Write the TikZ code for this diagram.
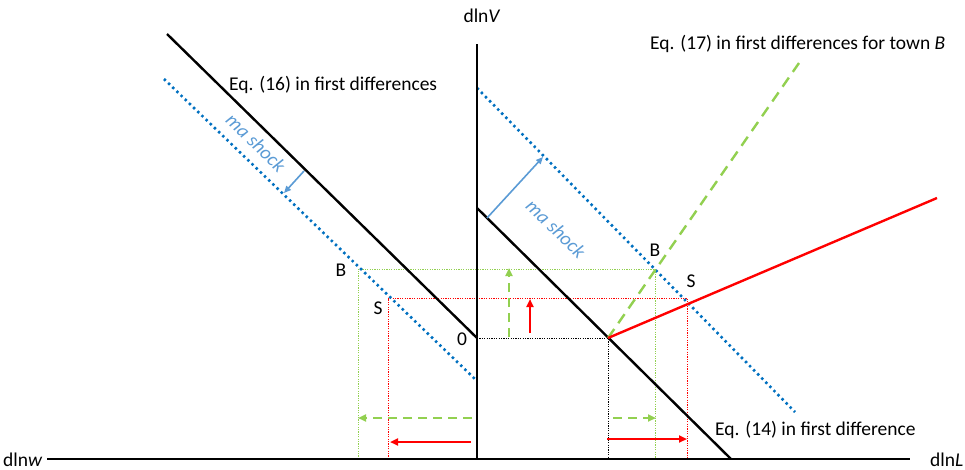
\documentclass[tikz,border=0pt]{standalone}
\usepackage{fontspec}
\setmainfont{Carlito}
\usetikzlibrary{arrows.meta}
\definecolor{bdot}{HTML}{0070C0}
\definecolor{lblue}{HTML}{5B9BD5}
\definecolor{lgreen}{HTML}{92D050}
\definecolor{rred}{HTML}{FF0000}
\begin{document}
\begin{tikzpicture}[x=1pt,y=-1pt,
  axis/.style={line width=2.8pt,black},
  eqline/.style={line width=2.4pt,black},
  bluedot/.style={line width=2.6pt,bdot,dash pattern=on 2.4pt off 3.4pt},
  guide/.style={line width=1pt,dash pattern=on 1.2pt off 1.2pt},
  shockarrow/.style={line width=1.6pt,lblue,-{Triangle[length=7pt,width=6pt]}},
  redarrow/.style={line width=2pt,rred,-{Triangle[length=8pt,width=7pt]}},
  greenarrow/.style={line width=2.2pt,lgreen,dash pattern=on 9pt off 6pt,-{Triangle[length=8pt,width=7pt]}},
  lab/.style={font=\fontsize{19.5}{22}\selectfont,inner sep=0pt},
  shocklab/.style={font=\fontsize{19.5}{22}\selectfont\itshape,text=lblue,inner sep=0pt}
]
\useasboundingbox (0,0) rectangle (965,469);
% coordinates
\coordinate (hL) at (47,459);
\coordinate (hR) at (910,459);
\coordinate (vT) at (477,44);
\coordinate (vB) at (477,460);
\coordinate (O) at (477,338);
\coordinate (e16a) at (167,34);
\coordinate (e14a) at (477,208);
\coordinate (K) at (608,338);
\coordinate (e14b) at (731,459);
\coordinate (bl1) at (164,79);
\coordinate (bl2) at (477,381);
\coordinate (br1) at (477,88);
\coordinate (br2) at (795,412);
\coordinate (g17) at (799,63);
\coordinate (r15) at (937,198);
\coordinate (Bp) at (655,269);
\coordinate (Sp) at (687,298);
\coordinate (BL) at (358,269);
\coordinate (SL) at (388,298);
\coordinate (BLb) at (358,459);
\coordinate (SLb) at (388,459);
\coordinate (Bpb) at (655,459);
\coordinate (Spb) at (687,459);
\coordinate (Kb) at (608,459);
% guides
\draw[guide,lgreen] (BLb) -- (BL) -- (Bp) -- (Bpb);
\draw[guide,rred] (SLb) -- (SL) -- (Sp) -- (Spb);
\draw[guide,black] (O) -- (K) -- (Kb);
% blue dotted
\draw[bluedot] (bl1) -- (bl2);
\draw[bluedot] (br1) -- (br2);
% eq lines
\draw[eqline] (e16a) -- (O);
\draw[eqline] (e14a) -- (e14b);
\draw[line width=2.4pt,lgreen,dash pattern=on 11pt off 7pt] (K) -- (g17);
\draw[line width=2.4pt,rred] (K) -- (r15);
% axes
\draw[axis] (hL) -- (hR);
\draw[axis] (vT) -- (vB);
% shock arrows
\coordinate (sa1) at (304,171);
\coordinate (sa2) at (284,193);
\coordinate (sb1) at (487,218);
\coordinate (sb2) at (543,157);
\draw[shockarrow] (sa1) -- (sa2);
\draw[shockarrow] (sb1) -- (sb2);
% small arrows
\coordinate (gu1) at (509,337);
\coordinate (gu2) at (509,268);
\coordinate (ru1) at (530,333);
\coordinate (ru2) at (530,299);
\coordinate (gl1) at (472,418);
\coordinate (gl2) at (358,418);
\coordinate (rl1) at (471,442);
\coordinate (rl2) at (390,442);
\coordinate (gr1) at (613,418);
\coordinate (gr2) at (656,418);
\coordinate (rr1) at (607,439);
\coordinate (rr2) at (687,439);
\draw[greenarrow] (gu1) -- (gu2);
\draw[redarrow] (ru1) -- (ru2);
\draw[greenarrow] (gl1) -- (gl2);
\draw[redarrow] (rl1) -- (rl2);
\draw[greenarrow] (gr1) -- (gr2);
\draw[redarrow] (rr1) -- (rr2);
% labels
\node[lab] (lV) at (482,16) {dln\textit{V}};
\node[lab,anchor=west] (lw) at (3,460) {dln\textit{w}};
\node[lab,anchor=west] (lL) at (930,460) {dln\textit{L}};
\node[lab,anchor=west] (l16) at (229,85) {Eq. (16) in first differences};
\node[lab,anchor=west] (l17) at (650,44) {Eq. (17) in first differences for town \textit{B}};
\node[lab,anchor=west] (l14) at (715,430) {Eq. (14) in first difference};
\node[shocklab,rotate=-44] (ms1) at (256,143) {ma shock};
\node[shocklab,rotate=-44] (ms2) at (556,229) {ma shock};
\node[lab] (lB1) at (341,270) {B};
\node[lab] (lS1) at (378,308) {S};
\node[lab] (l0) at (462,339) {0};
\node[lab] (lB2) at (655,250) {B};
\node[lab] (lS2) at (691,281) {S};
\end{tikzpicture}
\end{document}
